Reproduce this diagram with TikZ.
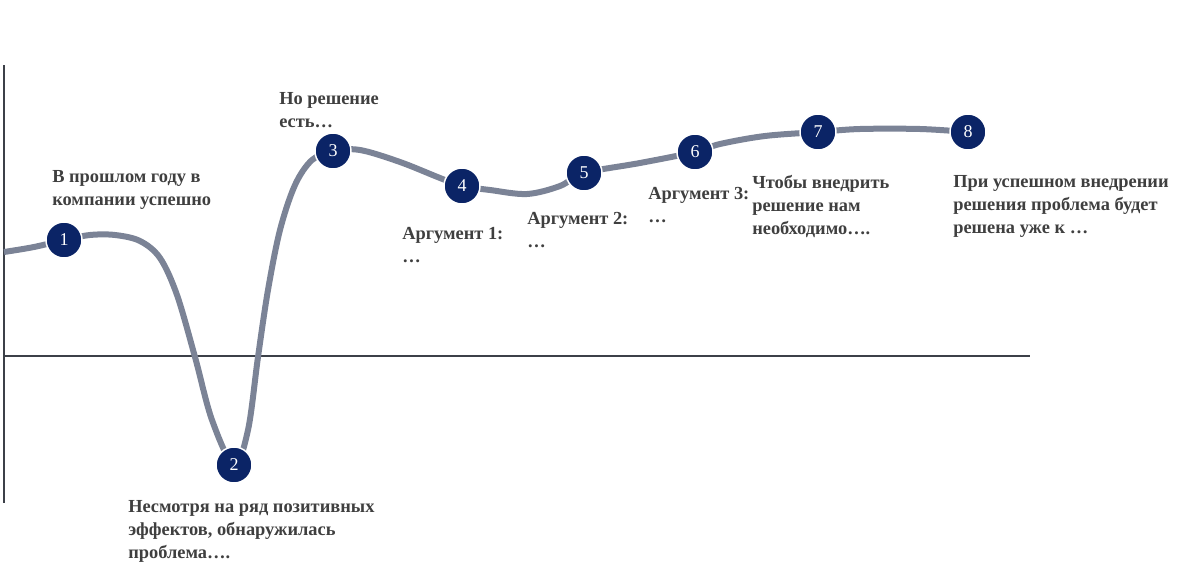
\documentclass[tikz,border=0pt]{standalone}
\usepackage{fontspec}
\setmainfont{Liberation Serif}
\usetikzlibrary{positioning}
\definecolor{navy}{HTML}{0B2466}
\definecolor{curvegray}{HTML}{7B8396}
\definecolor{axisgray}{HTML}{3C4048}
\definecolor{textgray}{HTML}{3F3F3F}

\begin{document}
\begin{tikzpicture}[
    x=0.75pt, y=-0.75pt,
    milestone/.style = {circle, fill=navy, draw=white, line width=1.1pt, minimum size=27pt, inner sep=0pt, text=white, font=\fontsize{13.5}{13.5}\selectfont},
    caption/.style = {anchor=north west, align=left, inner sep=0pt, text=textgray, font=\fontsize{13.8}{17.2}\selectfont\bfseries},
    axisline/.style = {draw=axisgray},
    trend/.style = {draw=curvegray, line width=4.5pt}]

    \useasboundingbox (0,0) rectangle (1200,579);

    % axes
    \coordinate (ytop) at (4,65);
    \coordinate (ybot) at (4,503);
    \coordinate (origin) at (4,356);
    \coordinate (xend) at (1030,356);
    \draw[axisline, line width=2.2pt] (ytop) -- (ybot);
    \draw[axisline, line width=1.5pt] (origin) -- (xend);

    % milestones
    \coordinate (p1) at (64,240);
    \coordinate (p2) at (234,465);
    \coordinate (p3) at (333,151);
    \coordinate (p4) at (462,186);
    \coordinate (p5) at (584,173);
    \coordinate (p6) at (695,152);
    \coordinate (p7) at (818,132);
    \coordinate (p8) at (968,132);

    \draw[trend] plot[smooth, tension=0.55] coordinates {(4,252) (34,247) (p1) (90,235) (115,235) (140,241) (160,258) (177,295) (195,357) (212,420) (p2) (248,430) (258,357) (268,290) (280,230) (295,185) (312,160) (p3) (360,150) (400,162) (440,178) (p4) (490,190) (527,194) (560,186) (p5) (640,163) (p6) (720,144) (765,136) (p7) (860,129) (920,129) (p8)};

    \node[milestone] (m1) at (p1) {1};
    \node[milestone] (m2) at (p2) {2};
    \node[milestone] (m3) at (p3) {3};
    \node[milestone] (m4) at (p4) {4};
    \node[milestone] (m5) at (p5) {5};
    \node[milestone] (m6) at (p6) {6};
    \node[milestone] (m7) at (p7) {7};
    \node[milestone] (m8) at (p8) {8};

    % captions
    \node[caption] (c1) at (52,170) {В прошлом году в\\компании успешно};
    \node[caption] (c2) at (128,500) {Несмотря на ряд позитивных\\эффектов, обнаружилась\\проблема….};
    \node[caption] (c3) at (279,92) {Но решение\\есть…};
    \node[caption] (c4) at (402,227) {Аргумент 1:\\…};
    \node[caption] (c5) at (527,212) {Аргумент 2:\\…};
    \node[caption] (c6) at (648,187) {Аргумент 3:\\…};
    \node[caption] (c7) at (752,175) {Чтобы внедрить\\решение нам\\необходимо….};
    \node[caption] (c8) at (953,175) {При успешном внедрении\\решения проблема будет\\решена уже к …};
\end{tikzpicture}
\end{document}
